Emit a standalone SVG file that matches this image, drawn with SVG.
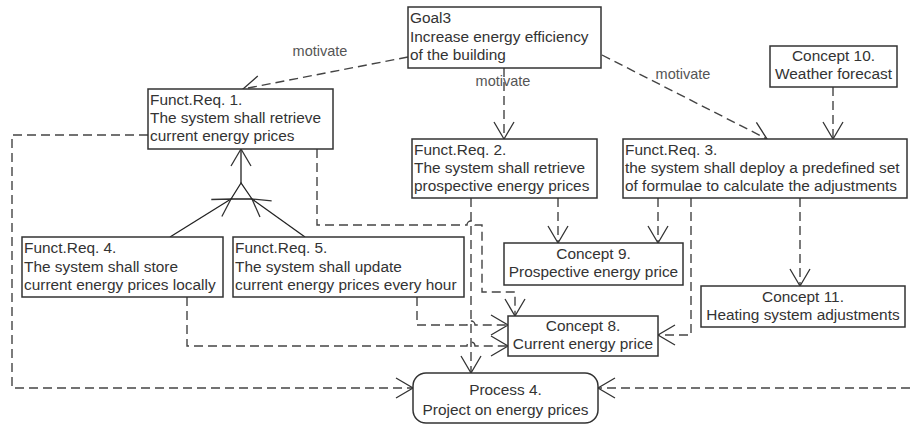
<svg xmlns="http://www.w3.org/2000/svg" width="910" height="425" viewBox="0 0 910 425">
<style>
.box{fill:#fff;stroke:#333;stroke-width:1.5}
.t{font-family:"Liberation Sans",Arial,sans-serif;font-size:15.4px;fill:#333}
.c{text-anchor:middle}
.lbl{font-family:"Liberation Sans",Arial,sans-serif;font-size:14.5px;fill:#555;text-anchor:middle}
.d{fill:none;stroke:#444;stroke-width:1.4;stroke-dasharray:9 5}
.s{fill:none;stroke:#222;stroke-width:1.3}
</style>
<defs>
<marker id="a" viewBox="-19 -11 21 22" refX="0" refY="0" markerWidth="21" markerHeight="22" markerUnits="userSpaceOnUse" orient="auto">
<path d="M-17,-10 L0,0 L-17,10" fill="none" stroke="#333" stroke-width="1.3"/>
</marker>
</defs>
<g id="connectors">
<path class="d" d="M408,57 L243,89" marker-end="url(#a)"/>
<path class="d" d="M504,68 L504,139" marker-end="url(#a)"/>
<path class="d" d="M602,55 L767,139" marker-end="url(#a)"/>
<path class="d" d="M833,87 L833,139" marker-end="url(#a)"/>
<path class="d" d="M800,198 L800,286" marker-end="url(#a)"/>
<path class="d" d="M558,198 L558,243" marker-end="url(#a)"/>
<path class="d" d="M658,198 L658,243" marker-end="url(#a)"/>
<path class="d" d="M691,198 L691,335 L658,335" marker-end="url(#a)"/>
<path class="d" d="M471,198 L471,373" marker-end="url(#a)"/>
<path class="d" d="M148,135 L12,135 L12,388 L413,388" marker-end="url(#a)"/>
<path class="d" d="M910,388 L598,388" marker-end="url(#a)"/>
<path class="d" d="M317,149 L317,225 L467,225 A4,4 0 0 1 475,225 L482,225 L482,292 L515,292 L515,316" marker-end="url(#a)"/>
<path class="d" d="M417,297 L417,325 L467,325 A4,4 0 0 1 475,325 L508,325" marker-end="url(#a)"/>
<path class="d" d="M187,297 L187,346 L467,346 A4,4 0 0 1 475,346 L508,346" marker-end="url(#a)"/>
<path class="s" d="M170,237 L231,199" marker-end="url(#a)"/>
<path class="s" d="M305,237 L252,199" marker-end="url(#a)"/>
<path class="s" d="M241,183 L231,199 L252,199 Z"/>
<path class="s" d="M241,183 L241,149" marker-end="url(#a)"/>
<text class="lbl" x="320" y="56">motivate</text>
<text class="lbl" x="503" y="86">motivate</text>
<text class="lbl" x="683" y="79">motivate</text>
</g>
<g id="goal3">
<rect class="box" x="408" y="7" width="193" height="61"/>
<text class="t" x="410" y="23">Goal3</text>
<text class="t" x="410" y="41.5">Increase energy efficiency</text>
<text class="t" x="410" y="60">of the building</text>
</g>
<g id="fr1">
<rect class="box" x="148" y="89" width="185" height="60"/>
<text class="t" x="150" y="104.5">Funct.Req. 1.</text>
<text class="t" x="150" y="122.5">The system shall retrieve</text>
<text class="t" x="150" y="140.5">current energy prices</text>
</g>
<g id="fr2">
<rect class="box" x="412" y="139" width="185" height="59"/>
<text class="t" x="414" y="154.5">Funct.Req. 2.</text>
<text class="t" x="414" y="172.5">The system shall retrieve</text>
<text class="t" x="414" y="190.5">prospective energy prices</text>
</g>
<g id="fr3">
<rect class="box" x="623" y="139" width="284" height="59"/>
<text class="t" x="625" y="154.5">Funct.Req. 3.</text>
<text class="t" x="625" y="172.5">the system shall deploy a predefined set</text>
<text class="t" x="625" y="190.5">of formulae to calculate the adjustments</text>
</g>
<g id="c10">
<rect class="box" x="770" y="46" width="127" height="41"/>
<text class="t c" x="833.5" y="61">Concept 10.</text>
<text class="t c" x="833.5" y="79">Weather forecast</text>
</g>
<g id="fr4">
<rect class="box" x="22" y="237" width="201" height="60"/>
<text class="t" x="24" y="253">Funct.Req. 4.</text>
<text class="t" x="24" y="271.5">The system shall store</text>
<text class="t" x="24" y="290">current energy prices locally</text>
</g>
<g id="fr5">
<rect class="box" x="233" y="237" width="231" height="60"/>
<text class="t" x="235" y="253">Funct.Req. 5.</text>
<text class="t" x="235" y="271.5">The system shall update</text>
<text class="t" x="235" y="290">current energy prices every hour</text>
</g>
<g id="c9">
<rect class="box" x="504" y="243" width="179" height="42"/>
<text class="t c" x="593.5" y="259">Concept 9.</text>
<text class="t c" x="593.5" y="277">Prospective energy price</text>
</g>
<g id="c8">
<rect class="box" x="508" y="316" width="150" height="40"/>
<text class="t c" x="583" y="331">Concept 8.</text>
<text class="t c" x="583" y="349">Current energy price</text>
</g>
<g id="c11">
<rect class="box" x="701" y="286" width="204" height="41"/>
<text class="t c" x="803" y="302">Concept 11.</text>
<text class="t c" x="803" y="320">Heating system adjustments</text>
</g>
<g id="p4">
<rect class="box" x="413" y="373" width="185" height="50" rx="13" ry="13"/>
<text class="t c" x="505.5" y="395">Process 4.</text>
<text class="t c" x="505.5" y="415">Project on energy prices</text>
</g>
</svg>
